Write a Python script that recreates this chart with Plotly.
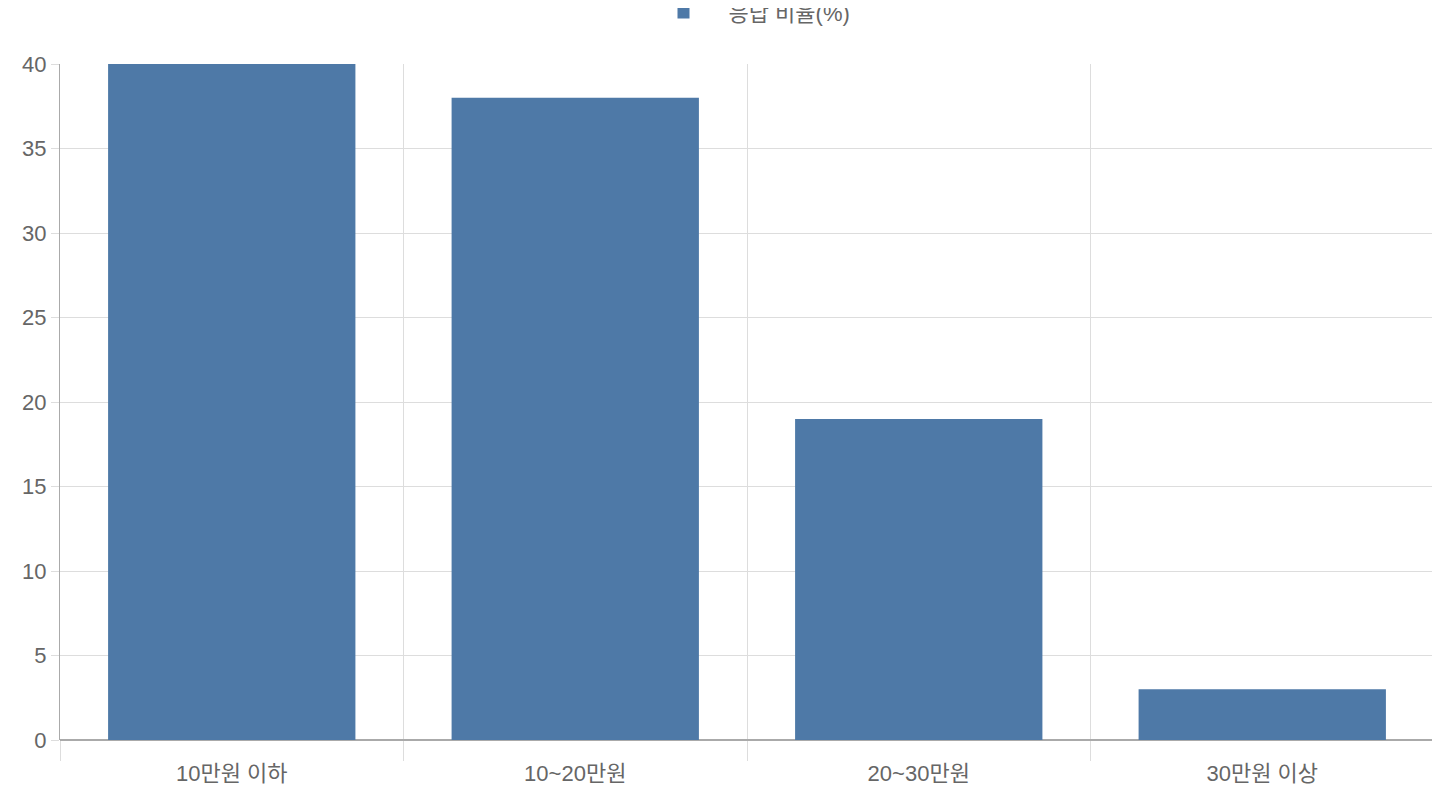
import plotly.graph_objects as go

categories = ["10만원 이하", "10~20만원", "20~30만원", "30만원 이상"]
values = [40, 38, 19, 3]
series_name = "응답 비율(%)"

fig = go.Figure()
fig.add_trace(go.Bar(x=categories, y=values, name=series_name,
                     marker=dict(color="#4E79A7", line=dict(width=0)), width=0.72))
# invisible trace on a linear overlay axis to draw the category-boundary grid
fig.add_trace(go.Scatter(x=[0, len(categories)], y=[0, 0], xaxis="x2", mode="markers",
                         marker=dict(opacity=0), showlegend=False, hoverinfo="skip"))

fig.update_layout(
    width=1440, height=800,
    margin=dict(l=52, r=14, t=56, b=68, autoexpand=False),
    plot_bgcolor="white", paper_bgcolor="white",
    font=dict(family="Liberation Sans, Noto Sans CJK KR", size=22, color="#666"),
    showlegend=True,
    legend=dict(orientation="h", x=0.5, xanchor="center", y=1.045, yanchor="bottom",
                font=dict(size=22, color="#666"), itemwidth=80),
    xaxis=dict(type="category", showgrid=False, ticks="outside", ticklen=14,
               tickcolor="rgba(0,0,0,0)", showline=False, automargin=False,
               tickfont=dict(size=22, color="#666")),
    xaxis2=dict(overlaying="x", range=[0, len(categories)], dtick=1, showgrid=True,
                gridcolor="#dddddd", showticklabels=False, ticks="outside", ticklen=20,
                tickcolor="#dddddd", zeroline=False, side="bottom", showline=False),
    yaxis=dict(range=[0, 40], dtick=5, gridcolor="#dddddd", showline=True,
               linecolor="#aaaaaa", ticks="outside", ticklen=8, tickcolor="#dddddd",
               zeroline=True, zerolinecolor="#aaaaaa", automargin=False,
               tickfont=dict(size=22, color="#666")),
)

fig.write_html("out.html")
